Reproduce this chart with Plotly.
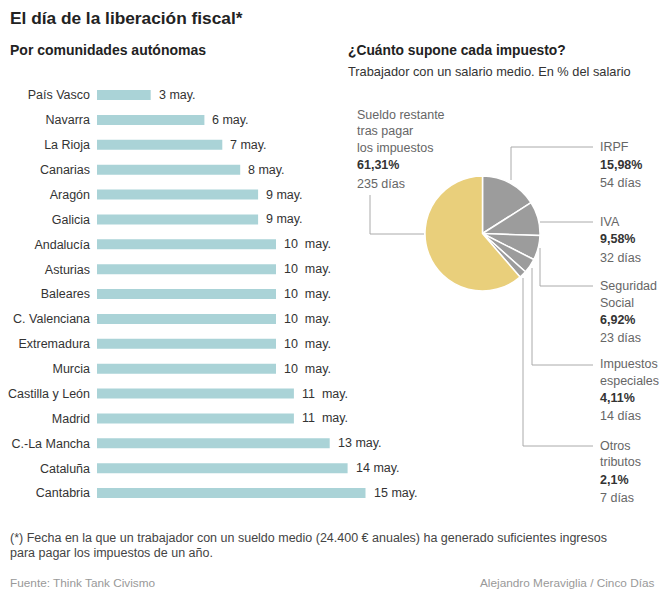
import plotly.graph_objects as go

W, H = 664, 596

regions = ["País Vasco", "Navarra", "La Rioja", "Canarias", "Aragón", "Galicia",
           "Andalucía", "Asturias", "Baleares", "C. Valenciana", "Extremadura",
           "Murcia", "Castilla y León", "Madrid", "C.-La Mancha", "Cataluña", "Cantabria"]
days_may = [3, 6, 7, 8, 9, 9, 10, 10, 10, 10, 10, 10, 11, 11, 13, 14, 15]
day_labels = ["3 may.", "6 may.", "7 may.", "8 may.", "9 may.", "9 may.",
              "10\u00a0 may.", "10\u00a0 may.", "10\u00a0 may.", "10\u00a0 may.", "10\u00a0 may.",
              "10\u00a0 may.", "11\u00a0 may.", "11\u00a0 may.", "13 may.", "14 may.", "15 may."]

tax_names = ["IRPF", "IVA", "Seguridad Social", "Impuestos especiales", "Otros tributos",
             "Sueldo restante tras pagar los impuestos"]
tax_pct = [15.98, 9.58, 6.92, 4.11, 2.1, 61.31]
tax_pct_labels = ["15,98%", "9,58%", "6,92%", "4,11%", "2,1%", "61,31%"]
tax_days = ["54 días", "32 días", "23 días", "14 días", "7 días", "235 días"]
tax_name_lines = [["IRPF"], ["IVA"], ["Seguridad", "Social"], ["Impuestos", "especiales"],
                  ["Otros", "tributos"], ["Sueldo restante", "tras pagar", "los impuestos"]]

FONT = "Liberation Sans, Arial, sans-serif"
DARK = "#333333"
GREY = "#666666"
LINE = "#aaaaaa"


def px(x, y):
    return x / W, 1 - y / H


fig = go.Figure()

# ---- bar chart ----
x0_px, per_day, xmax = 97, 17.9, 16
top_px, step = 82.6, 24.875
bot_px = top_px + step * len(regions)
fig.add_trace(go.Bar(
    y=regions, x=days_may, orientation="h",
    marker=dict(color="#aad3d7", line=dict(width=0)),
    width=0.4, hoverinfo="skip", xaxis="x", yaxis="y",
))
fig.update_layout(
    xaxis=dict(domain=[x0_px / W, (x0_px + per_day * xmax) / W], range=[0, xmax],
               visible=False, fixedrange=True),
    yaxis=dict(domain=[1 - bot_px / H, 1 - top_px / H], type="category",
               autorange="reversed", showgrid=False, zeroline=False, showline=False,
               ticks="", ticklabelstandoff=6,
               tickfont=dict(family=FONT, size=12.5, color=DARK)),
)

annotations = []
for r, v, lab in zip(regions, days_may, day_labels):
    annotations.append(dict(x=v, y=r, xref="x", yref="y", text=lab, showarrow=False,
                            xanchor="left", yanchor="middle", xshift=6,
                            font=dict(family=FONT, size=12.5, color=DARK)))

# ---- pie ----
cx, cy, rad = 482.5, 233.5, 57.5
fig.add_trace(go.Pie(
    values=tax_pct, labels=tax_names, sort=False, direction="clockwise", rotation=0,
    marker=dict(colors=["#9c9c9c"] * 5 + ["#e9cf7b"], line=dict(color="white", width=1.5)),
    textinfo="none", hoverinfo="skip", showlegend=False,
    domain=dict(x=[(cx - rad) / W, (cx + rad) / W], y=[1 - (cy + rad) / H, 1 - (cy - rad) / H]),
))


def txt(x, y, t, size=12.5, color=DARK, bold=False, anchor="left"):
    xx, yy = px(x, y)
    annotations.append(dict(x=xx, y=yy, xref="paper", yref="paper",
                            text=f"<b>{t}</b>" if bold else t, showarrow=False,
                            xanchor=anchor, yanchor="middle",
                            font=dict(family=FONT, size=size, color=color)))


# pie labels
label_x = 598
label_tops = [147, 222, 286, 364, 446]
for i, ytop in enumerate(label_tops):
    y = ytop
    for ln in tax_name_lines[i]:
        txt(label_x, y, ln, color=GREY)
        y += 16.5
    y += 1
    txt(label_x, y, tax_pct_labels[i], bold=True)
    y += 18
    txt(label_x, y, tax_days[i], color=GREY)

# sueldo label
y = 115
for ln in tax_name_lines[5]:
    txt(355, y, ln, color=GREY)
    y += 16.3
y += 1
txt(355, y, tax_pct_labels[5], bold=True)
txt(355, y + 19, tax_days[5], color=GREY)

# leader lines
shapes = []


def seg(x1, y1, x2, y2):
    a, b = px(x1, y1)
    c, d = px(x2, y2)
    shapes.append(dict(type="line", xref="paper", yref="paper", x0=a, y0=b, x1=c, y1=d,
                       line=dict(color=LINE, width=1)))


seg(511, 180, 511, 147); seg(511, 147, 593, 147)
seg(540, 222, 593, 222)
seg(540, 248, 540, 286); seg(540, 286, 593, 286)
seg(532, 268, 532, 365); seg(532, 365, 593, 365)
seg(523, 278, 523, 446); seg(523, 446, 593, 446)
seg(370, 195, 370, 234); seg(370, 234, 424, 234)

# titles and notes
txt(8, 18, "El día de la liberación fiscal*", size=17.3, color="#222222", bold=True)
txt(8, 50, "Por comunidades autónomas", size=14, color="#222222", bold=True)
txt(346, 50, "¿Cuánto supone cada impuesto?", size=13.8, color="#222222", bold=True)
txt(346, 71, "Trabajador con un salario medio. En % del salario", size=12.8, color=DARK)
txt(8, 538, "(*) Fecha en la que un trabajador con un sueldo medio (24.400 € anuales) ha generado suficientes ingresos",
    size=12.5, color="#444444")
txt(8, 553, "para pagar los impuestos de un año.", size=12.5, color="#444444")
txt(8, 583, "Fuente: Think Tank Civismo", size=11.8, color="#999999")
txt(657, 583, "Alejandro Meraviglia / Cinco Días", size=11.8, color="#999999", anchor="right")

fig.update_layout(
    width=W, height=H, margin=dict(l=0, r=0, t=0, b=0),
    paper_bgcolor="white", plot_bgcolor="white",
    showlegend=False, annotations=annotations, shapes=shapes,
    font=dict(family=FONT),
)

fig.write_html("out.html")
